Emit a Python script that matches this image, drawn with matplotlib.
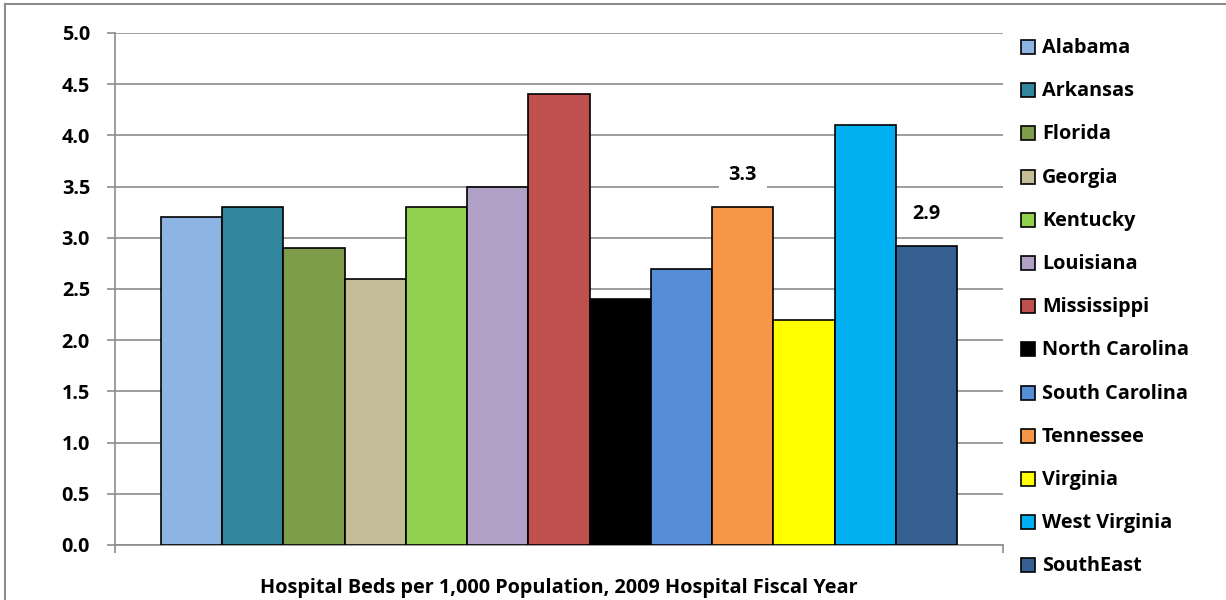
import matplotlib
matplotlib.use("Agg")
import matplotlib.pyplot as plt
from matplotlib.patches import Rectangle
from matplotlib.lines import Line2D

states = ["Alabama", "Arkansas", "Florida", "Georgia", "Kentucky", "Louisiana",
          "Mississippi", "North Carolina", "South Carolina", "Tennessee",
          "Virginia", "West Virginia", "SouthEast"]
beds = [3.2, 3.3, 2.9, 2.6, 3.3, 3.5, 4.4, 2.4, 2.7, 3.3, 2.2, 4.1, 2.92]
colors = ["#8EB4E3", "#31859C", "#7F9C4A", "#C4BD97", "#92D050", "#B2A1C7",
          "#C0504D", "#000000", "#558ED5", "#F79646", "#FFFF00", "#00B0F0",
          "#376092"]
labeled = {"Tennessee": "3.3", "SouthEast": "2.9"}
yticks = [0.0, 0.5, 1.0, 1.5, 2.0, 2.5, 3.0, 3.5, 4.0, 4.5, 5.0]
xlabel = "Hospital Beds per 1,000 Population, 2009 Hospital Fiscal Year"

plt.rcParams['font.family'] = ['Open Sans', 'DejaVu Sans']
plt.rcParams['font.weight'] = 'bold'
FS = 14.3

W, H = 1226, 600
fig = plt.figure(figsize=(W / 100, H / 100), dpi=100)
ax = fig.add_axes([115 / W, 1 - 545 / H, (1003 - 115) / W, (545 - 33) / H])

grid_c = "#8C8C8C"
xs = list(range(len(states)))
ax.bar(xs, beds, width=1.0, color=colors, edgecolor="black", linewidth=1.2, zorder=3)
ax.set_xlim(-1.25, 13.25)
ax.set_ylim(0, 5)
ax.set_yticks(yticks)
ax.set_yticklabels([f"{v:.1f}" for v in yticks], fontsize=FS, fontweight='bold')
ax.yaxis.grid(True, color=grid_c, linewidth=1.2, zorder=0)
ax.set_axisbelow(True)
for s in ["top", "right"]:
    ax.spines[s].set_visible(False)
for s in ["left", "bottom"]:
    ax.spines[s].set_color(grid_c)
    ax.spines[s].set_linewidth(1.2)
ax.tick_params(axis='y', length=6, width=1.2, color=grid_c, pad=12)
ax.set_xticks([-1.25, 13.25])
ax.set_xticklabels(["", ""])
ax.tick_params(axis='x', length=6, width=1.2, color=grid_c)
ax.set_xlabel(xlabel, fontsize=FS, fontweight='bold', labelpad=14)

for x, s, v in zip(xs, states, beds):
    if s in labeled:
        ax.annotate(labeled[s], (x, v), xytext=(0, 23), textcoords="offset points",
                    ha="center", va="center", fontsize=FS, fontweight='bold',
                    bbox=dict(boxstyle="square,pad=0.5", fc="white", ec="none"),
                    zorder=5)

# legend
for i, (s, c) in enumerate(zip(states, colors)):
    yc = 47 + i * 43.2
    fig.patches.append(Rectangle((1021 / W, 1 - (yc + 7) / H), 14 / W, 14 / H,
                                 transform=fig.transFigure, facecolor=c,
                                 edgecolor="black", linewidth=1.2))
    fig.text(1042 / W, 1 - (yc + 1) / H, s, ha="left", va="center", fontsize=FS,
             fontweight='bold')

# outer chart border (left and top visible)
fig.add_artist(Line2D([5 / W, 5 / W], [0, 1 - 4 / H], transform=fig.transFigure,
                      color="#8C8C8C", linewidth=1.5))
fig.add_artist(Line2D([5 / W, 1], [1 - 4 / H, 1 - 4 / H], transform=fig.transFigure,
                      color="#8C8C8C", linewidth=1.5))

fig.savefig("out.png", dpi=100)
